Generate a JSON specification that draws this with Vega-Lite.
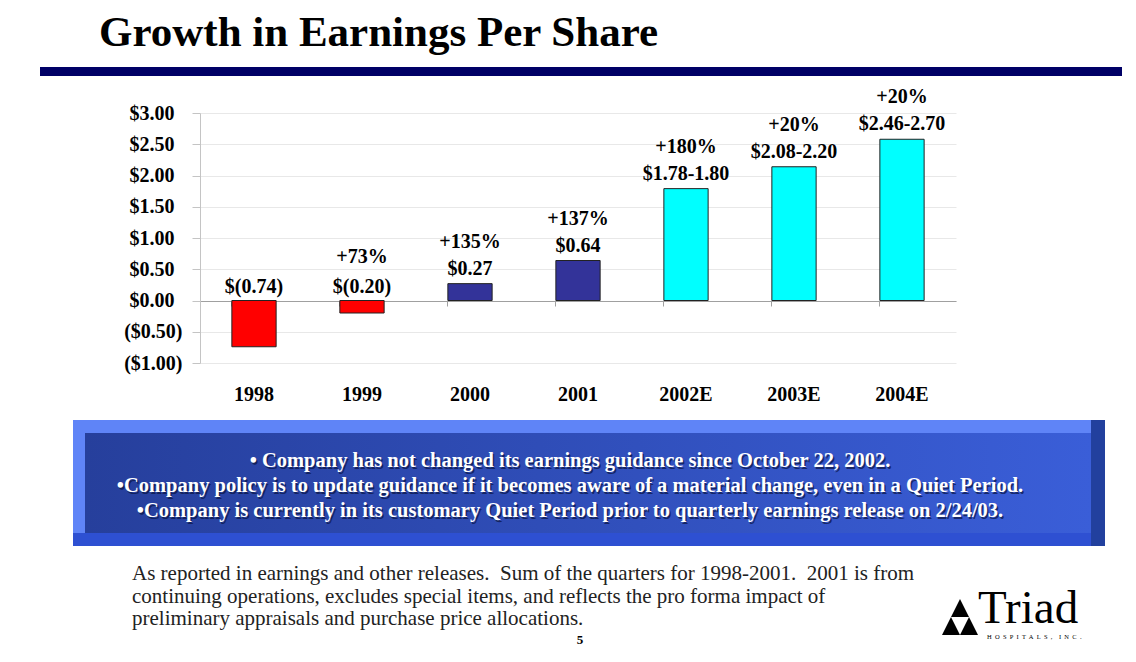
{
  "$schema": "https://vega.github.io/schema/vega-lite/v6.json",
  "background": "white",
  "padding": {"left": 40, "top": 12, "right": 0, "bottom": 0},
  "config": {
    "view": {"stroke": null},
    "font": "Liberation Serif",
    "axisY": {"title": null, "values": [-1, -0.5, 0, 0.5, 1, 1.5, 2, 2.5, 3], "grid": true, "gridColor": "#e8e8e8", "domainColor": "#c4c4c4", "tickColor": "#c4c4c4", "tickSize": 8,
      "labelFont": "Liberation Serif", "labelFontSize": 20, "labelFontWeight": "bold", "labelColor": "#000000", "labelOverlap": false}
  },
  "spacing": 11,
  "vconcat": [
    {
      "width": 1082,
      "height": 9,
      "title": {"text": "Growth in Earnings Per Share", "anchor": "start", "dx": 59, "offset": 12, "font": "Liberation Serif", "fontSize": 43, "fontWeight": "bold", "color": "#000000"},
      "data": {"values": [{}]},
      "mark": {"type": "rect", "color": "#000066"},
      "encoding": {
        "x": {"datum": 0, "type": "quantitative", "scale": {"domain": [0, 1]}, "axis": null},
        "x2": {"datum": 1},
        "y": {"datum": 0, "type": "quantitative", "scale": {"domain": [0, 1]}, "axis": null},
        "y2": {"datum": 1}
      }
    },
    {
      "spacing": 0,
      "hconcat": [
        {"width": 83, "height": 10, "data": {"values": [{}]}, "mark": {"type": "text", "text": ""}},
        {
          "width": 756,
          "height": 250,
          "data": {"values": [
            {"year": "1998", "eps": -0.74, "growth": "", "label": "$(0.74)", "kind": "loss"},
            {"year": "1999", "eps": -0.20, "growth": "+73%", "label": "$(0.20)", "kind": "loss"},
            {"year": "2000", "eps": 0.27, "growth": "+135%", "label": "$0.27", "kind": "actual"},
            {"year": "2001", "eps": 0.64, "growth": "+137%", "label": "$0.64", "kind": "actual"},
            {"year": "2002E", "eps": 1.79, "growth": "+180%", "label": "$1.78-1.80", "kind": "estimate"},
            {"year": "2003E", "eps": 2.14, "growth": "+20%", "label": "$2.08-2.20", "kind": "estimate"},
            {"year": "2004E", "eps": 2.58, "growth": "+20%", "label": "$2.46-2.70", "kind": "estimate"}
          ]},
          "resolve": {"axis": {"x": "independent"}},
          "layer": [
            {
              "mark": {"type": "bar", "stroke": "#222222", "strokeWidth": 1},
              "encoding": {
                "x": {"field": "year", "type": "ordinal", "sort": null,
                  "scale": {"domain": ["1998", "1999", "2000", "2001", "2002E", "2003E", "2004E"], "paddingInner": 0.59, "paddingOuter": 0.295},
                  "axis": {"title": null, "orient": "bottom", "domain": false, "ticks": false, "grid": false, "labelAngle": 0, "labelPadding": 21, "labelFont": "Liberation Serif", "labelFontSize": 20, "labelFontWeight": "bold", "labelColor": "#000000"}},
                "y": {"field": "eps", "type": "quantitative",
                  "scale": {"domain": [-1, 3], "nice": false},
                  "axis": {"title": null, "values": [-1, -0.5, 0, 0.5, 1, 1.5, 2, 2.5, 3],
                    "labelExpr": "datum.value < 0 ? '($' + format(-datum.value, '.2f') + ')' : '$' + format(datum.value, '.2f')",
                    "labelPadding": {"condition": {"test": "datum.value < 0", "value": 10}, "value": 18}}},
                "color": {"field": "kind", "type": "nominal", "scale": {"domain": ["loss", "actual", "estimate"], "range": ["#FF0000", "#333399", "#00FFFF"]}, "legend": null}
              }
            },
            {
              "transform": [{"filter": "datum.eps >= 0"}],
              "mark": {"type": "text", "baseline": "middle", "dy": -15, "font": "Liberation Serif", "fontSize": 20, "fontWeight": "bold", "color": "#000000"},
              "encoding": {
                "x": {"field": "year", "type": "ordinal", "sort": null,
                  "axis": {"title": null, "orient": "bottom", "offset": -62, "labels": false, "grid": false, "domain": true, "domainColor": "#a0a0a0", "ticks": true, "tickColor": "#a0a0a0", "tickSize": 5, "bandPosition": 0}},
                "y": {"field": "eps", "type": "quantitative",
                  "axis": {"title": null, "values": [-1, -0.5, 0, 0.5, 1, 1.5, 2, 2.5, 3],
                    "labelExpr": "datum.value < 0 ? '($' + format(-datum.value, '.2f') + ')' : '$' + format(datum.value, '.2f')",
                    "labelPadding": {"condition": {"test": "datum.value < 0", "value": 10}, "value": 18}}},
                "text": {"field": "label"}
              }
            },
            {
              "transform": [{"filter": "datum.eps < 0"}],
              "mark": {"type": "text", "baseline": "middle", "dy": -14, "font": "Liberation Serif", "fontSize": 20, "fontWeight": "bold", "color": "#000000"},
              "encoding": {
                "x": {"field": "year", "type": "ordinal", "sort": null, "axis": null},
                "y": {"datum": 0, "type": "quantitative",
                  "axis": {"title": null, "values": [-1, -0.5, 0, 0.5, 1, 1.5, 2, 2.5, 3],
                    "labelExpr": "datum.value < 0 ? '($' + format(-datum.value, '.2f') + ')' : '$' + format(datum.value, '.2f')",
                    "labelPadding": {"condition": {"test": "datum.value < 0", "value": 10}, "value": 18}}},
                "text": {"field": "label"}
              }
            },
            {
              "transform": [{"filter": "datum.eps >= 0"}],
              "mark": {"type": "text", "baseline": "middle", "dy": -42, "font": "Liberation Serif", "fontSize": 20, "fontWeight": "bold", "color": "#000000"},
              "encoding": {
                "x": {"field": "year", "type": "ordinal", "sort": null, "axis": null},
                "y": {"field": "eps", "type": "quantitative",
                  "axis": {"title": null, "values": [-1, -0.5, 0, 0.5, 1, 1.5, 2, 2.5, 3],
                    "labelExpr": "datum.value < 0 ? '($' + format(-datum.value, '.2f') + ')' : '$' + format(datum.value, '.2f')",
                    "labelPadding": {"condition": {"test": "datum.value < 0", "value": 10}, "value": 18}}},
                "text": {"field": "growth"}
              }
            },
            {
              "transform": [{"filter": "datum.eps < 0"}],
              "mark": {"type": "text", "baseline": "middle", "dy": -44, "font": "Liberation Serif", "fontSize": 20, "fontWeight": "bold", "color": "#000000"},
              "encoding": {
                "x": {"field": "year", "type": "ordinal", "sort": null, "axis": null},
                "y": {"datum": 0, "type": "quantitative",
                  "axis": {"title": null, "values": [-1, -0.5, 0, 0.5, 1, 1.5, 2, 2.5, 3],
                    "labelExpr": "datum.value < 0 ? '($' + format(-datum.value, '.2f') + ')' : '$' + format(datum.value, '.2f')",
                    "labelPadding": {"condition": {"test": "datum.value < 0", "value": 10}, "value": 18}}},
                "text": {"field": "growth"}
              }
            }
          ]
        }
      ]
    },
    {
      "width": 1066,
      "height": 245,
      "data": {"values": [{}]},
      "layer": [
        {
          "mark": {"type": "rect", "color": "#5F84F7"},
          "encoding": {
            "x": {"datum": 33, "type": "quantitative", "scale": {"domain": [0, 1066], "nice": false, "zero": false}, "axis": null},
            "x2": {"datum": 1065},
            "y": {"datum": 5, "type": "quantitative", "scale": {"domain": [0, 245], "nice": false, "zero": false, "reverse": true}, "axis": null},
            "y2": {"datum": 131}
          }
        },
        {
          "mark": {"type": "rect", "color": "#2E50D2"},
          "encoding": {"x": {"datum": 33, "type": "quantitative", "axis": null}, "x2": {"datum": 1065}, "y": {"datum": 118, "type": "quantitative", "axis": null}, "y2": {"datum": 131}}
        },
        {
          "mark": {"type": "rect", "color": "#22409E"},
          "encoding": {"x": {"datum": 1051, "type": "quantitative", "axis": null}, "x2": {"datum": 1065}, "y": {"datum": 5, "type": "quantitative", "axis": null}, "y2": {"datum": 131}}
        },
        {
          "mark": {"type": "rect", "color": {"gradient": "linear", "x1": 0, "y1": 0, "x2": 1, "y2": 0, "stops": [{"offset": 0, "color": "#263F9C"}, {"offset": 1, "color": "#3A5ED8"}]}},
          "encoding": {"x": {"datum": 45, "type": "quantitative", "axis": null}, "x2": {"datum": 1051}, "y": {"datum": 18, "type": "quantitative", "axis": null}, "y2": {"datum": 118}}
        },
        {
          "mark": {"type": "text", "text": ["• Company has not changed its earnings guidance since October 22, 2002.", "•Company policy is to update guidance if it becomes aware of a material change, even in a Quiet Period.", "•Company is currently in its customary Quiet Period prior to quarterly earnings release on 2/24/03."], "lineHeight": 25, "align": "center", "baseline": "middle", "dx": 1.5, "dy": 1.5, "font": "Liberation Serif", "fontSize": 20.5, "fontWeight": "bold", "color": "#0a1440", "opacity": 0.7},
          "encoding": {"x": {"datum": 530, "type": "quantitative", "axis": null}, "y": {"datum": 46, "type": "quantitative", "axis": null}}
        },
        {
          "mark": {"type": "text", "text": ["• Company has not changed its earnings guidance since October 22, 2002.", "•Company policy is to update guidance if it becomes aware of a material change, even in a Quiet Period.", "•Company is currently in its customary Quiet Period prior to quarterly earnings release on 2/24/03."], "lineHeight": 25, "align": "center", "baseline": "middle", "font": "Liberation Serif", "fontSize": 20.5, "fontWeight": "bold", "color": "#FFFFFF"},
          "encoding": {"x": {"datum": 530, "type": "quantitative", "axis": null}, "y": {"datum": 46, "type": "quantitative", "axis": null}}
        },
        {
          "mark": {"type": "text", "text": ["As reported in earnings and other releases.\u00a0 Sum of the quarters for 1998-2001.\u00a0 2001 is from", "continuing operations, excludes special items, and reflects the pro forma impact of", "preliminary appraisals and purchase price allocations."], "lineHeight": 22.5, "align": "left", "baseline": "middle", "font": "Liberation Serif", "fontSize": 21, "color": "#222222"},
          "encoding": {"x": {"datum": 92, "type": "quantitative", "axis": null}, "y": {"datum": 159, "type": "quantitative", "axis": null}}
        },
        {
          "mark": {"type": "text", "text": "5", "align": "center", "baseline": "middle", "font": "Liberation Serif", "fontSize": 13, "fontWeight": "bold", "color": "#000000"},
          "encoding": {"x": {"datum": 540, "type": "quantitative", "axis": null}, "y": {"datum": 225, "type": "quantitative", "axis": null}}
        },
        {
          "mark": {"type": "point", "shape": "M0,-1L1,1L-1,1Z", "filled": true, "color": "#000000", "opacity": 1, "size": 1300},
          "encoding": {"x": {"datum": 920, "type": "quantitative", "axis": null}, "y": {"datum": 202, "type": "quantitative", "axis": null}}
        },
        {
          "mark": {"type": "point", "shape": "M-0.5,0L0.5,0L0,1Z", "filled": true, "color": "#FFFFFF", "opacity": 1, "size": 1300},
          "encoding": {"x": {"datum": 920, "type": "quantitative", "axis": null}, "y": {"datum": 202, "type": "quantitative", "axis": null}}
        },
        {
          "mark": {"type": "text", "text": "Triad", "align": "left", "baseline": "alphabetic", "font": "Liberation Serif", "fontSize": 47, "color": "#000000"},
          "encoding": {"x": {"datum": 938, "type": "quantitative", "axis": null}, "y": {"datum": 208, "type": "quantitative", "axis": null}}
        },
        {
          "mark": {"type": "text", "text": "H\u00a0 O\u00a0 S\u00a0 P\u00a0 I\u00a0 T\u00a0 A\u00a0 L\u00a0 S\u00a0 ,\u00a0 \u00a0 I\u00a0 N\u00a0 C\u00a0 .", "align": "left", "baseline": "middle", "font": "Liberation Serif", "fontSize": 6.5, "color": "#000000"},
          "encoding": {"x": {"datum": 947, "type": "quantitative", "axis": null}, "y": {"datum": 222, "type": "quantitative", "axis": null}}
        }
      ]
    }
  ]
}
